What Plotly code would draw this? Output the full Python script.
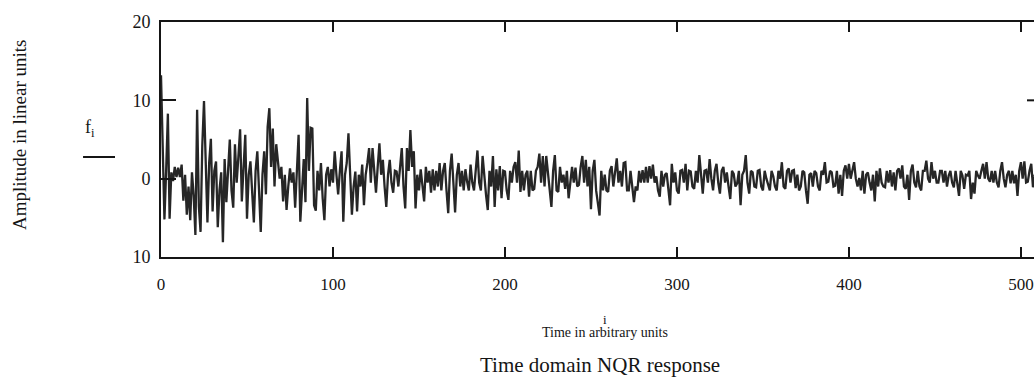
import plotly.graph_objects as go

# Signal values f_i (i = 0 .. 511)
f_values = [
    13.2, 2.0, -5.2, 1.0, 8.3, -5.1, 0.8, -0.3, 1.5, 0.2,        # 0
    1.4, 0.2, 1.8, -2.8, 0.5, -4.6, -1.0, -5.3, 0.8, -2.2,       # 10
    -7.2, 8.8, -3.5, -6.8, 4.2, 9.9, 0.5, -5.6, 2.0, 5.1,        # 20
    -4.2, 1.0, 2.2, -6.2, -1.5, 0.8, -8.1, 2.5, -3.0, 1.5,       # 30
    5.0, -1.5, -3.7, 4.4, -0.5, 2.8, 6.3, -2.9, 1.0, 5.6,        # 40
    -5.1, 0.5, 2.2, -2.0, -5.6, 1.0, 3.5, -1.5, -6.8, 0.5,       # 50
    3.5, -2.0, 6.6, 9.0, 1.5, 6.4, -1.0, 4.4, 2.0, 0.0,          # 60
    1.5, -2.9, 0.5, -4.0, -1.0, 1.3, -0.5, 0.8, -3.7, 1.0,       # 70
    5.6, -5.5, -2.0, 2.5, -3.0, 10.3, 1.0, 6.5, 6.4, -3.4,       # 80
    -4.1, 1.0, -1.5, 2.0, -2.5, -5.3, 0.5, 1.5, -1.0, 1.2,       # 90
    -0.5, 3.5, 0.5, -2.0, 1.0, 3.5, -5.5, 0.5, 2.0, 5.8,         # 100
    0.5, -4.6, -1.0, 0.9, -4.2, 0.5, -1.0, 1.8, -3.4, 0.5,       # 110
    2.0, 3.9, -0.5, 3.9, 1.0, -1.8, 1.5, 4.5, 0.5, 2.4,          # 120
    -1.0, -3.6, 0.5, 2.4, -0.5, -1.8, 1.0, 0.9, -1.0, 2.0,       # 130
    3.9, -1.0, -3.8, 3.9, 1.0, 6.2, 1.5, 3.5, -3.8, 0.5,         # 140
    -1.5, 1.2, -1.0, -2.9, 1.5, -0.5, 1.0, -1.8, 1.2, -1.5,      # 150
    1.0, -1.0, 2.0, -1.5, 1.0, 2.0, -1.5, -4.4, 1.0, 3.2,        # 160
    -0.5, -4.3, 0.5, 2.0, -1.0, 1.0, -1.5, 1.2, -0.4, -1.5,      # 170
    1.8, -0.5, -1.5, 1.5, 3.6, -0.5, -1.5, 2.9, 0.0, -2.1,       # 180
    -4.0, 1.0, -1.0, 2.9, -3.6, 1.2, -1.5, 1.6, -2.5, 1.0,       # 190
    0.9, -1.5, -2.7, 1.0, -0.5, 1.5, 2.1, -0.5, 3.6, -1.7,       # 200
    1.0, -1.5, 0.5, 1.0, -2.3, 1.0, -1.5, -1.3, 1.0, 1.5,        # 210
    3.2, -0.5, 2.9, -1.0, 2.9, 1.0, -1.5, -3.6, 1.0, 3.0,        # 220
    -1.5, -1.7, 1.5, -0.5, 0.5, -1.3, 1.0, -2.5, -0.5, 1.5,      # 230
    -0.5, 1.4, -1.0, -0.8, 1.5, 2.9, -0.5, 2.4, -1.0, 1.5,       # 240
    -3.9, 1.0, 2.4, -1.5, -3.1, -4.7, 1.0, -1.5, 0.5, -1.5,      # 250
    -1.7, 1.0, 1.6, -1.0, 0.8, 2.6, -0.5, 1.0, -1.0, 2.0,        # 260
    2.1, -1.5, -1.5, 1.0, -1.0, -3.0, -1.0, -1.5, 1.0, -0.5,     # 270
    1.1, -0.5, 1.5, -0.5, 1.6, 0.0, 1.8, -0.5, 0.3, -1.5,        # 280
    -2.3, 1.0, -1.0, 0.5, 0.7, -1.5, -3.4, 1.9, -0.5, 0.8,       # 290
    -1.5, -1.9, 1.0, 1.1, -0.5, 1.9, -1.5, 1.0, 0.9, -1.0,       # 300
    -1.3, 1.0, -0.5, 3.0, 0.0, -1.9, 1.0, 1.1, -0.5, 2.5,        # 310
    0.0, -1.5, 1.0, 1.9, -0.5, -1.9, 1.0, 1.5, -0.5, 0.8,        # 320
    -1.0, -2.6, 1.0, 0.6, -1.0, -0.6, 1.0, -3.4, 0.5, 1.0,       # 330
    3.0, -0.5, -1.9, 1.0, 0.8, -1.0, -1.1, 1.0, 1.1, -1.0,       # 340
    -1.5, 1.0, 0.0, -0.8, -1.5, 1.0, 0.3, -1.0, -1.5, 1.0,       # 350
    0.0, 2.1, -1.0, -1.3, 1.0, 1.3, -0.5, 1.0, 1.1, -1.2,        # 360
    0.5, -1.5, -1.0, 1.0, 0.8, -1.5, -3.2, 0.5, 0.7, -1.0,       # 370
    1.0, 0.7, -1.0, -1.5, 1.0, 0.5, 2.1, -0.5, -0.4, 1.0,        # 380
    0.8, -1.0, -0.9, 1.0, -1.9, 0.5, -2.2, 1.0, 1.7, 0.0,        # 390
    1.9, 0.0, 1.0, 2.1, 0.0, -1.0, 0.1, -1.5, 1.0, -1.9,         # 400
    0.5, 0.8, -0.5, -1.5, 0.5, -2.9, 1.0, -1.0, 1.3, -0.5,       # 410
    -1.0, -1.1, 1.0, -0.5, 1.1, -1.0, 0.8, -1.5, 1.0, 1.3,       # 420
    0.0, 1.7, -1.0, -1.3, 0.5, -2.7, 1.0, 1.8, -0.5, -1.1,       # 430
    1.0, -1.0, -1.5, 1.0, 1.0, 2.3, 0.0, -0.5, 2.1, 0.0,         # 440
    1.0, -0.5, -0.5, 1.0, 1.0, -0.5, 1.0, -1.0, 0.4, 1.0,        # 450
    -0.5, -1.1, 1.0, -0.5, -2.2, 1.0, 0.4, -1.3, 0.5, 0.4,       # 460
    1.0, -2.6, -0.5, -1.9, 1.0, 0.4, 0.0, 1.0, 1.9, 0.0,         # 470
    2.1, 0.0, -0.4, 1.0, -0.5, 1.0, -0.5, -1.1, 1.0, 2.1,        # 480
    0.0, -1.1, 0.5, 1.0, -0.6, 1.0, -0.6, 0.5, -2.2, 1.0,        # 490
    2.1, 0.0, 2.2, -0.5, -0.4, 1.0, 1.9, -1.1, 0.5, 0.0,         # 500
    -0.5, 0.8,                                                   # 510
]
i_values = list(range(len(f_values)))

x_tick_vals = [0, 100, 200, 300, 400, 500]
x_tick_text = ["0", "100", "200", "300", "400", "500"]
y_tick_vals = [-10, 0, 10, 20]
y_tick_text = ["10", "0", "10", "20"]

SERIF = "Liberation Serif, Times New Roman, serif"
INK = "#151515"

fig = go.Figure()
fig.add_trace(go.Scatter(
    x=i_values, y=f_values, mode="lines",
    line=dict(color="#262626", width=2.3),
    showlegend=False, hoverinfo="skip",
))

fig.update_layout(
    width=1034, height=385,
    margin=dict(l=161, r=0, t=22, b=128),
    paper_bgcolor="white", plot_bgcolor="white",
    xaxis=dict(
        range=[0, 507.6], tickvals=x_tick_vals, ticktext=x_tick_text,
        ticks="inside", ticklen=10, tickwidth=2, tickcolor=INK,
        showline=True, linewidth=2, linecolor=INK, mirror="allticks",
        showgrid=False, zeroline=False,
        tickfont=dict(family=SERIF, size=17, color=INK),
        ticklabelstandoff=11,
    ),
    yaxis=dict(
        range=[-10, 20], tickvals=y_tick_vals, ticktext=y_tick_text,
        ticks="inside", ticklen=15, tickwidth=2, tickcolor=INK,
        showline=True, linewidth=2, linecolor=INK, mirror=False,
        showgrid=False, zeroline=False,
        tickfont=dict(family=SERIF, size=18, color=INK),
        ticklabelstandoff=5,
    ),
    annotations=[
        dict(text="Amplitude in linear units", xref="paper", yref="paper",
             x=-0.1627, y=0.523, textangle=-90, showarrow=False,
             xanchor="center", yanchor="middle",
             font=dict(family=SERIF, size=19, color=INK)),
        dict(text="f<sub>i</sub>", xref="paper", yref="paper",
             x=-0.081, y=0.545, showarrow=False,
             xanchor="center", yanchor="middle",
             font=dict(family=SERIF, size=18, color=INK)),
        dict(text="i", xref="paper", yref="paper",
             x=0.5086, y=-0.264, showarrow=False,
             xanchor="center", yanchor="middle",
             font=dict(family=SERIF, size=13, color=INK)),
        dict(text="Time in arbitrary units", xref="paper", yref="paper",
             x=0.5086, y=-0.323, showarrow=False,
             xanchor="center", yanchor="middle",
             font=dict(family=SERIF, size=14, color=INK)),
        dict(text="Time domain NQR response", xref="paper", yref="paper",
             x=0.5029, y=-0.46, showarrow=False,
             xanchor="center", yanchor="middle",
             font=dict(family=SERIF, size=21, color=INK)),
    ],
    shapes=[
        dict(type="line", xref="paper", yref="paper",
             x0=-0.0893, x1=-0.0527, y0=0.4255, y1=0.4255,
             line=dict(color=INK, width=2)),
        dict(type="line", xref="paper", yref="y",
             x0=0.992, x1=1.0, y0=10, y1=10,
             line=dict(color=INK, width=2)),
    ],
)

fig.write_html("out.html")
